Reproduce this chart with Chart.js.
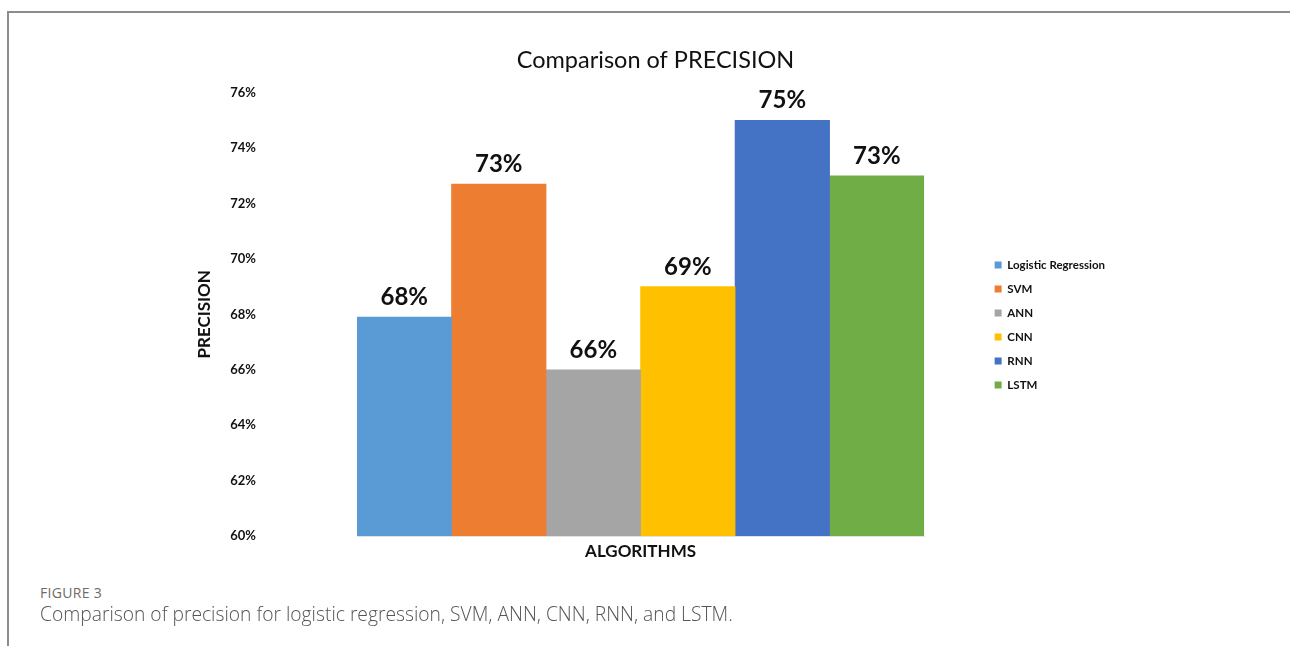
<!DOCTYPE html>
<html>
<head>
<meta charset="utf-8">
<script src="https://cdn.jsdelivr.net/npm/chart.js@4.4.1/dist/chart.umd.min.js"></script>
<style>
  html, body { margin: 0; padding: 0; background: #fff; }
  body { width: 1290px; height: 646px; position: relative; overflow: hidden; }
  .frame {
    position: absolute; left: 7px; top: 11px; right: -4px; bottom: -4px;
    border-top: 2px solid #8c8c8c; border-left: 2px solid #8c8c8c;
  }
  .chart-box { position: absolute; left: 196px; top: 12px; width: 919px; height: 626px; }
  .fig-label {
    position: absolute; left: 40px; top: 583px;
    font: 14px "Open Sans", sans-serif; color: #6b6b6b; letter-spacing: 0.3px;
  }
  .fig-caption {
    position: absolute; left: 40px; top: 600px;
    font: 300 19.25px "Open Sans", sans-serif; color: #555;
  }
</style>
</head>
<body>
<div class="frame"></div>
<div class="chart-box"><canvas id="precisionChart"></canvas></div>
<div class="fig-label">FIGURE 3</div>
<div class="fig-caption">Comparison of precision for logistic regression, SVM, ANN, CNN, RNN, and LSTM.</div>

<script>
const algorithms = ["Logistic Regression", "SVM", "ANN", "CNN", "RNN", "LSTM"];
const precision = [67.9, 72.7, 66, 69, 75, 73];
const barColors = ["#5B9BD5", "#ED7D31", "#A5A5A5", "#FFC000", "#4472C4", "#70AD47"];
const yTicks = [60, 62, 64, 66, 68, 70, 72, 74, 76];

const FONT = "Lato, 'Open Sans', sans-serif";

// one dataset per algorithm so each bar gets its own legend entry
const datasets = algorithms.map((name, i) => ({
  label: name,
  data: [precision[i]],
  backgroundColor: barColors[i],
  borderWidth: 0,
}));

// percentage printed above every bar
const valueLabels = {
  id: "valueLabels",
  afterDatasetsDraw(chart) {
    const ctx = chart.ctx;
    ctx.save();
    ctx.font = "bold 24px " + FONT;
    ctx.fillStyle = "#111";
    ctx.textAlign = "center";
    ctx.textBaseline = "alphabetic";
    chart.data.datasets.forEach((ds, i) => {
      chart.getDatasetMeta(i).data.forEach((bar, j) => {
        ctx.fillText(Math.round(ds.data[j]) + "%", bar.x, bar.y - 12);
      });
    });
    ctx.restore();
  },
};

new Chart(document.getElementById("precisionChart"), {
  type: "bar",
  data: { labels: ["ALGORITHMS"], datasets },
  options: {
    responsive: true,
    maintainAspectRatio: false,
    animation: false,
    layout: { padding: 0 },
    datasets: { bar: { categoryPercentage: 1, barPercentage: 1 } },
    scales: {
      x: {
        ticks: { display: false },
        grid: { display: false, drawTicks: false },
        border: { display: true, color: "#e2e2e2", width: 1 },
        title: {
          display: true,
          text: "ALGORITHMS",
          color: "#111",
          font: { family: FONT, size: 17, weight: "bold", lineHeight: 18 / 17 },
          padding: { top: 7, bottom: 77 },
        },
      },
      y: {
        min: 60,
        max: 76,
        afterBuildTicks: (scale) => {
          scale.ticks = yTicks.map((v) => ({ value: v }));
        },
        afterFit: (scale) => {
          // wide gap between tick labels and bars; don't let the
          // big tick padding push the plot area down
          scale.width = 161;
          scale.paddingTop = 8;
          scale.paddingBottom = 8;
        },
        ticks: {
          padding: 101,
          color: "#111",
          font: { family: FONT, size: 13, weight: "bold" },
          callback: (v) => v + "%",
        },
        grid: { display: false, drawTicks: false },
        border: { display: false },
        title: {
          display: true,
          text: "PRECISION",
          color: "#111",
          font: { family: FONT, size: 17, weight: "bold", lineHeight: 18 / 17 },
          padding: 0,
        },
      },
      // empty right-hand axis keeps a gap between the bars and the legend
      gap: {
        position: "right",
        display: true,
        ticks: { display: false },
        grid: { display: false, drawTicks: false },
        border: { display: false },
        afterFit: (scale) => {
          scale.width = 58;
        },
      },
    },
    plugins: {
      title: {
        display: true,
        text: "Comparison of PRECISION",
        color: "#111",
        font: { family: FONT, size: 23.5, weight: "normal", lineHeight: 1.2 },
        padding: { top: 34, bottom: 18.5 },
      },
      legend: {
        position: "right",
        align: "center",
        labels: {
          boxWidth: 7,
          boxHeight: 7,
          padding: 12.5,
          color: "#111",
          font: { family: FONT, size: 11.5, weight: "bold" },
        },
      },
      tooltip: { enabled: false },
    },
  },
  plugins: [valueLabels],
});
</script>
</body>
</html>
